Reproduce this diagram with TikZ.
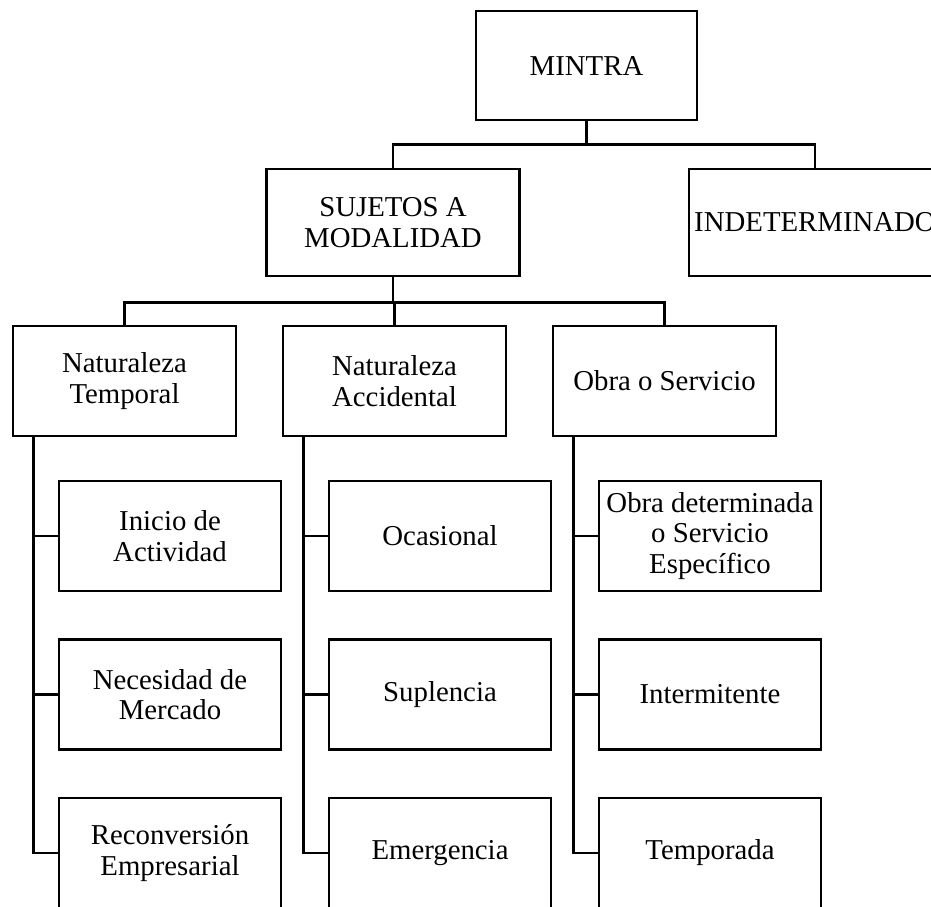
\documentclass[tikz,border=0pt]{standalone}
\usepackage{fontspec}
\setmainfont{Liberation Serif}
\usetikzlibrary{calc}
\begin{document}
\begin{tikzpicture}[x=1pt,y=-1pt,
  box/.style={draw, line width=2.7pt, rectangle, inner sep=0pt, align=center,
    font=\fontsize{28.8}{30.7}\selectfont},
  topbox/.style={box, minimum width=221pt, minimum height=109pt},
  midbox/.style={box, minimum width=253pt, minimum height=107pt},
  catbox/.style={box, minimum width=223pt, minimum height=110pt},
  leafbox/.style={box, minimum width=222pt, minimum height=110pt},
  link/.style={line width=2.7pt}]
\useasboundingbox (0,0) rectangle (931,906);
\clip (0,0) rectangle (931,906);
\fill[white] (0,0) rectangle (931,906);

\node[topbox] (mintra) at (586.5,65.5) {MINTRA};
\node[midbox] (suj) at (393,222.5) {SUJETOS A\\MODALIDAD};
\node[midbox, minimum width=252pt] (indet) at (815,222.5) {INDETERMINADO};

\node[catbox] (temp) at (124.5,381) {Naturaleza\\Temporal};
\node[catbox] (acc) at (394.5,381) {Naturaleza\\Accidental};
\node[catbox] (obra) at (664.5,381) {Obra o Servicio};

\node[leafbox] (c11) at (170,536) {Inicio de\\Actividad};
\node[leafbox] (c12) at (170,694.5) {Necesidad de\\Mercado};
\node[leafbox] (c13) at (170,853) {Reconversión\\Empresarial};

\node[leafbox] (c21) at (440,536) {Ocasional};
\node[leafbox] (c22) at (440,694.5) {Suplencia};
\node[leafbox] (c23) at (440,853) {Emergencia};

\node[leafbox] (c31) at (710,536) {Obra determinada\\o Servicio\\Específico};
\node[leafbox] (c32) at (710,694.5) {Intermitente};
\node[leafbox] (c33) at (710,853) {Temporada};

% top level connectors
\coordinate (bus1) at (586.5,144.3);
\draw[link] (mintra.south) -- (bus1);
\draw[link] (suj.north) |- (bus1) -| (indet.north);

% second level connectors
\coordinate (bus2) at (393,302.7);
\draw[link] (suj.south) -- (bus2);
\draw[link] (temp.north) |- (bus2) -| (obra.north);
\draw[link] (acc.north) -- (acc.north |- bus2);

% spines
\coordinate (s1) at ($(temp.south west)+(22,0)$);
\coordinate (s2) at ($(acc.south west)+(22,0)$);
\coordinate (s3) at ($(obra.south west)+(22,0)$);
\draw[link] (s1) |- (c13.west);
\draw[link] (s1 |- c11.west) -- (c11.west);
\draw[link] (s1 |- c12.west) -- (c12.west);
\draw[link] (s2) |- (c23.west);
\draw[link] (s2 |- c21.west) -- (c21.west);
\draw[link] (s2 |- c22.west) -- (c22.west);
\draw[link] (s3) |- (c33.west);
\draw[link] (s3 |- c31.west) -- (c31.west);
\draw[link] (s3 |- c32.west) -- (c32.west);
\end{tikzpicture}
\end{document}
